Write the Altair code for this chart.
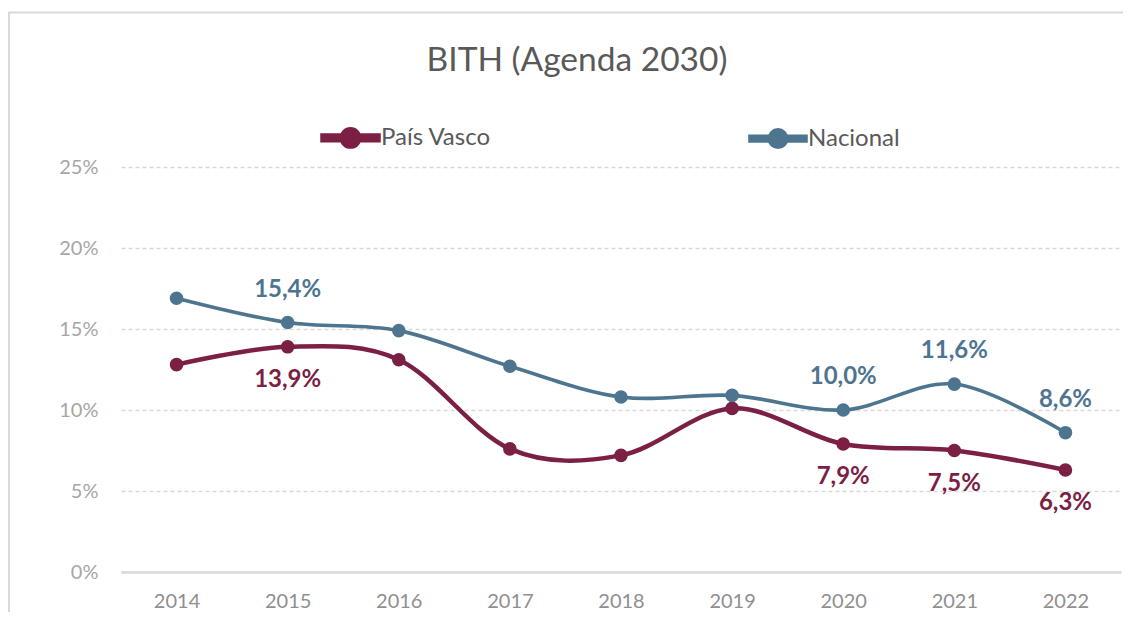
import altair as alt
import pandas as pd

# ---- data ----
years = ["2014", "2015", "2016", "2017", "2018", "2019", "2020", "2021", "2022"]
pais_vasco = [12.8, 13.9, 13.1, 7.6, 7.2, 10.1, 7.9, 7.5, 6.3]
nacional = [16.9, 15.4, 14.9, 12.7, 10.8, 10.9, 10.0, 11.6, 8.6]
labeled_years = ["2015", "2020", "2021", "2022"]
series = ["País Vasco", "Nacional"]
colors = ["#7B1F45", "#4E758F"]
y_ticks = [0, 5, 10, 15, 20, 25]
title_text = "BITH (Agenda 2030)"

FONT = "Lato"

rows = []
for s, vals in zip(series, [pais_vasco, nacional]):
    for yr, v in zip(years, vals):
        lab = (f"{v:.1f}".replace(".", ",") + "%") if yr in labeled_years else ""
        rows.append({"year": yr, "serie": s, "valor": v, "label": lab})
df = pd.DataFrame(rows)

legend_path = (
    "M-1,-0.085H1V0.085H-1Z "
    "M0.31,0A0.31,0.31 0 1,1 -0.31,0A0.31,0.31 0 1,1 0.31,0Z"
)

x_enc = alt.X(
    "year:O",
    scale=alt.Scale(type="point", padding=0.5),
    axis=alt.Axis(
        title=None, labelAngle=0, ticks=False, domain=True,
        domainColor="#D9D9D9", domainWidth=2.5, grid=False,
        labelFont=FONT, labelFontSize=20, labelColor="#8F8F8F", labelPadding=19,
    ),
)
y_enc = alt.Y(
    "valor:Q",
    scale=alt.Scale(domain=[0, 25], nice=False),
    axis=alt.Axis(
        title=None, values=y_ticks, labelExpr="datum.value + '%'",
        ticks=False, domain=False, grid=True, gridColor="#D9D9D9",
        gridDash=[4, 3], gridWidth=1.3,
        labelFont=FONT, labelFontSize=20, labelColor="#A6A6A6", labelPadding=23,
    ),
)
color_enc = alt.Color(
    "serie:N",
    scale=alt.Scale(domain=series, range=colors),
    sort=series,
    legend=alt.Legend(
        title=None, orient="none", legendX=199, legendY=-60,
        direction="horizontal", symbolType=legend_path, symbolSize=3136,
        symbolStrokeWidth=0, symbolOpacity=1,
        labelFont=FONT, labelFontSize=24, labelColor="#595959",
        labelOffset=0, columnPadding=251,
    ),
)

base = alt.Chart(df)

lines = base.mark_line(interpolate="cardinal").encode(
    x=x_enc, y=y_enc, color=color_enc,
    strokeWidth=alt.StrokeWidth("serie:N", scale=alt.Scale(domain=series, range=[4.5, 3.6]), legend=None),
)
points = base.mark_point(filled=True, size=185, opacity=1).encode(
    x=x_enc, y=y_enc, color=color_enc,
)
labels_pv = base.transform_filter(
    (alt.datum.serie == series[0]) & (alt.datum.label != "")
).mark_text(dy=33, fontWeight="bold", fontSize=24, font=FONT, color=colors[0], baseline="middle").encode(
    x=x_enc, y=y_enc, text="label:N"
)
labels_nac = base.transform_filter(
    (alt.datum.serie == series[1]) & (alt.datum.label != "")
).mark_text(dy=-33, fontWeight="bold", fontSize=24, font=FONT, color=colors[1], baseline="middle").encode(
    x=x_enc, y=y_enc, text="label:N"
)

title = alt.Chart(alt.Data(values=[{}])).mark_text(
    text=title_text, font=FONT, fontSize=33.5, color="#595959", baseline="middle", align="center"
).encode(x=alt.value(456), y=alt.value(-106))

# chart-area frame (top and left edges visible in the reference), kept inside the canvas
frame_top = alt.Chart(alt.Data(values=[{}])).mark_rule(color="#D9D9D9", strokeWidth=2).encode(
    x=alt.value(-113), x2=alt.value(1002), y=alt.value(-154.5)
)
frame_left = alt.Chart(alt.Data(values=[{}])).mark_rule(color="#D9D9D9", strokeWidth=2).encode(
    x=alt.value(-112), y=alt.value(-155), y2=alt.value(445)
)

chart = alt.layer(frame_top, frame_left, title, lines, points, labels_pv, labels_nac).properties(
    width=1000, height=405,
    autosize=alt.AutoSizeParams(type="none"),
    padding={"left": 113, "top": 159, "right": 2, "bottom": 40},
    view=alt.ViewBackground(strokeOpacity=0, strokeWidth=0),
).configure_view(strokeOpacity=0, strokeWidth=0).configure(background="white")

chart.save("out.html", embed_options={"renderer": "svg", "actions": False})
